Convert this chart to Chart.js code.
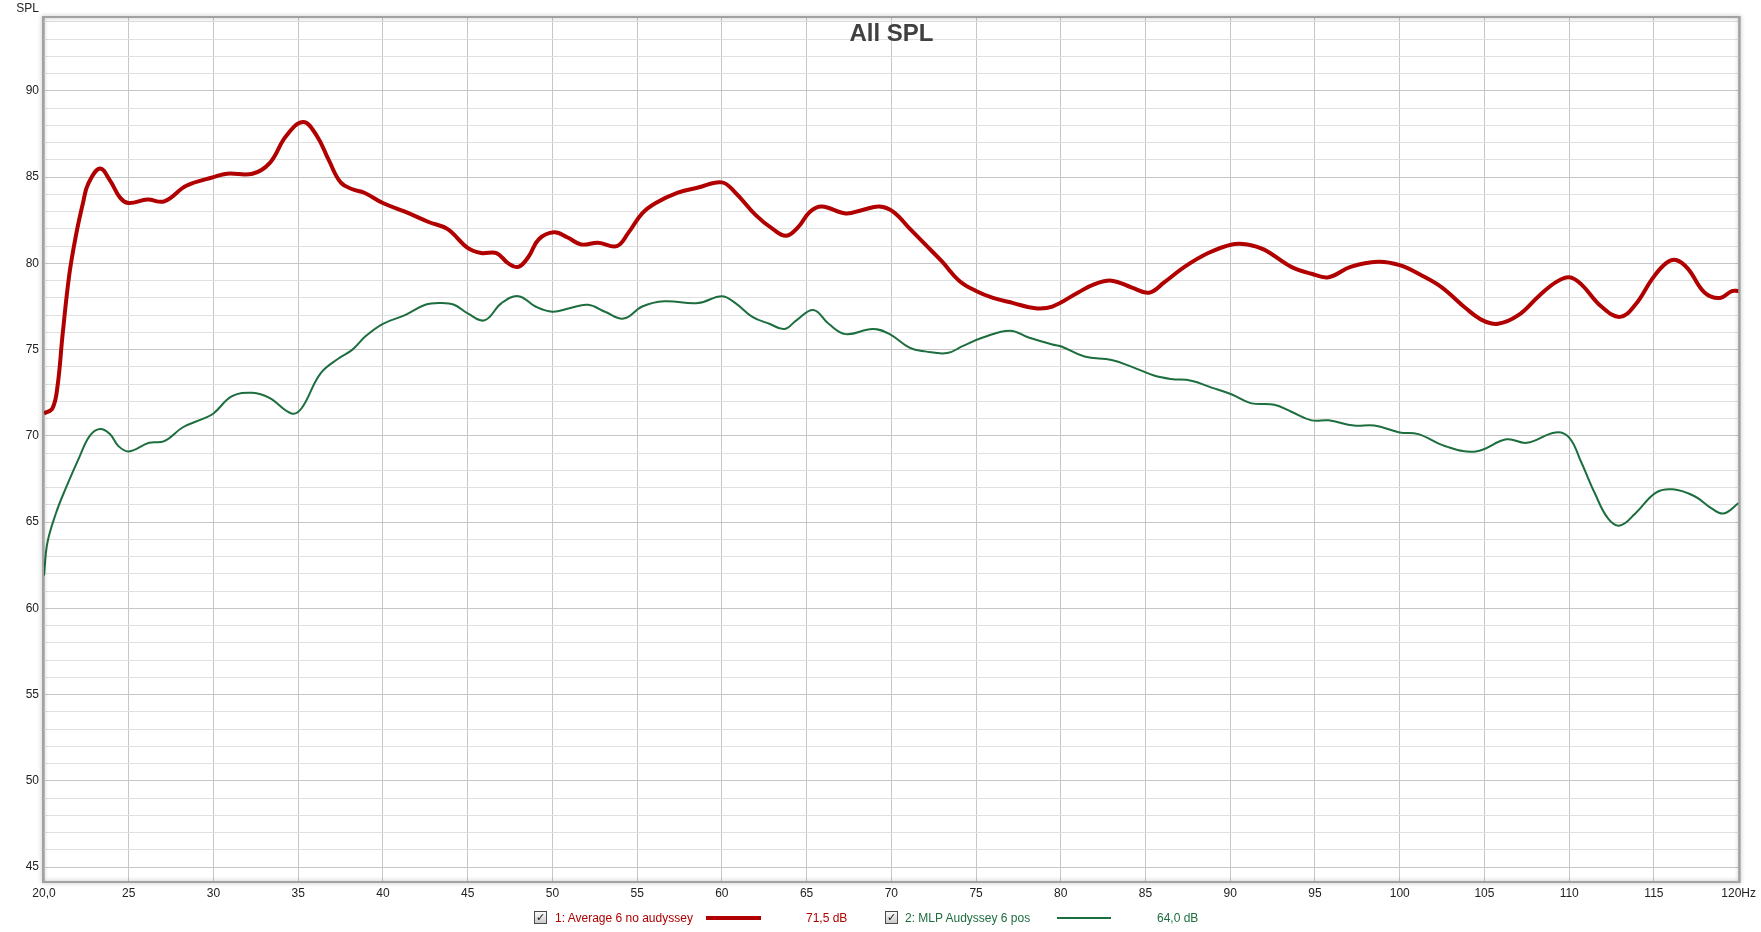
<!DOCTYPE html>
<html>
<head>
<meta charset="utf-8">
<title>All SPL</title>
<script src="https://cdn.jsdelivr.net/npm/chart.js@4"></script>
<style>
  body { margin: 0; background: #fff; font-family: "Liberation Sans", Arial, sans-serif; }
  #wrap { position: relative; width: 1761px; height: 932px; }
  #wrap div, #wrap span { position: absolute; white-space: nowrap; }
  .lbl { font-size: 12px; line-height: 14px; }
  .cb { width: 11px; height: 11px; border: 1px solid #4a4a4a; background: linear-gradient(#fafafa, #c9c9c9);
        font: 11px/11px "DejaVu Sans", sans-serif; color: #111; text-align: center; }
</style>
</head>
<body>
<div id="wrap">
  <canvas id="spl" width="1761" height="932"></canvas>
  <div class="lbl" style="left:0;top:1px;width:39px;text-align:right;color:#222">SPL</div>
  <div style="left:44px;top:19px;width:1695px;text-align:center;font:bold 24px/28px 'Liberation Sans', Arial, sans-serif;color:#404040">All SPL</div>

  <span class="cb" style="left:534px;top:911px">✓</span>
  <div class="lbl" style="left:555px;top:911px;color:#b00000">1: Average 6 no audyssey</div>
  <div style="left:706px;top:916px;width:55px;height:4px;background:#b00000"></div>
  <div class="lbl" style="left:806px;top:911px;color:#b00000">71,5 dB</div>

  <span class="cb" style="left:885px;top:911px">✓</span>
  <div class="lbl" style="left:905px;top:911px;color:#1d6e3e">2: MLP Audyssey 6 pos</div>
  <div style="left:1057px;top:917px;width:54px;height:2px;background:#1d6e3e"></div>
  <div class="lbl" style="left:1157px;top:911px;color:#1d6e3e">64,0 dB</div>
</div>
<script>
// frequency axis (Hz) and SPL readings (dB)
const xTicks = [20, 25, 30, 35, 40, 45, 50, 55, 60, 65, 70, 75, 80, 85, 90, 95, 100, 105, 110, 115, 120];
const yTicks = [45, 50, 55, 60, 65, 70, 75, 80, 85, 90];

const avgHz = [20, 20.5, 20.8, 21.1, 21.5, 21.9, 22.3, 22.6, 23.3, 23.9, 24.5, 25, 26.1, 27.1, 28.4, 30, 30.8, 32.3, 33.3, 34.3,
  35.3, 36.1, 36.8, 37.5, 38.2, 38.9, 40, 41.3, 42.7, 43.8, 45, 45.8, 46.7, 47.4, 48, 48.6, 49.2, 50.1, 50.9, 51.7,
  52.7, 53.8, 54.5, 55.3, 56.1, 57.4, 58.6, 60, 60.8, 62, 63, 63.8, 64.5, 65.2, 65.9, 67.3, 68.3, 69.3, 70.1, 71.1,
  72, 73, 74, 75, 76, 77.2, 78.5, 79.5, 81, 82, 83, 84.2, 85.2, 86.1, 87.3, 88.7, 90.1, 91, 92, 93.6,
  94.8, 95.8, 97.1, 98.7, 100, 101.3, 102.5, 103.9, 104.9, 105.8, 107, 108.2, 109.2, 110, 110.7, 111.9, 113, 113.9, 114.9, 115.7,
  116.3, 117, 118, 118.9, 119.6, 120];
const avgDb = [71.3, 71.6, 72.9, 75.9, 79.4, 81.7, 83.5, 84.6, 85.5, 84.8, 83.8, 83.5, 83.7, 83.6, 84.5, 85.0, 85.2, 85.2, 85.8, 87.4,
  88.2, 87.4, 86.0, 84.7, 84.3, 84.1, 83.5, 83.0, 82.4, 82.0, 80.9, 80.6, 80.6, 80.0, 79.8, 80.4, 81.4, 81.8, 81.5, 81.1,
  81.2, 81.0, 81.8, 82.9, 83.5, 84.1, 84.4, 84.7, 84.1, 82.8, 82.0, 81.6, 82.1, 83.0, 83.3, 82.9, 83.1, 83.3, 83.0, 82.0,
  81.1, 80.1, 79.0, 78.4, 78.0, 77.7, 77.4, 77.5, 78.3, 78.8, 79.0, 78.6, 78.3, 78.9, 79.8, 80.6, 81.1, 81.1, 80.8, 79.8,
  79.4, 79.2, 79.8, 80.1, 79.9, 79.3, 78.6, 77.4, 76.7, 76.5, 77.0, 78.1, 78.9, 79.2, 78.8, 77.5, 76.9, 77.6, 79.1, 80.0,
  80.2, 79.7, 78.3, 78.0, 78.4, 78.4];

const mlpHz = [20, 20.2, 20.7, 21.3, 22.1, 22.7, 23.3, 23.9, 24.4, 25, 26.2, 27.1, 28.2, 29.4, 30, 31.1, 32.3, 33.3, 34.6, 35.2,
  36.3, 37.4, 38.2, 39, 40, 41.3, 42.5, 43.4, 44.2, 45, 46, 47, 48, 49, 50, 51, 52.1, 53.1, 54.2, 55.3,
  56.6, 58.6, 60, 60.8, 61.8, 62.8, 63.7, 64.4, 65.4, 66.3, 67.3, 68.9, 69.9, 71.1, 72, 73.3, 74.2, 75.4, 77, 78.1,
  79.5, 80, 81.4, 83, 84.2, 85.5, 86.5, 87.7, 88.9, 90.1, 91.2, 92.6, 93.6, 94.8, 95.8, 97.3, 98.5, 100, 101.1, 102.7,
  104.5, 106.3, 107.5, 109.2, 110, 110.7, 111.5, 112.3, 113, 113.9, 115.1, 116.1, 117.4, 118.4, 119.1, 120];
const mlpDb = [61.9, 63.8, 65.5, 67.0, 68.8, 70.0, 70.4, 70.1, 69.4, 69.1, 69.6, 69.7, 70.5, 71.0, 71.3, 72.3, 72.5, 72.2, 71.3, 71.6,
  73.6, 74.5, 75.0, 75.8, 76.5, 77.0, 77.6, 77.7, 77.6, 77.1, 76.7, 77.7, 78.1, 77.5, 77.2, 77.4, 77.6, 77.2, 76.8, 77.5,
  77.8, 77.7, 78.1, 77.7, 76.9, 76.5, 76.2, 76.7, 77.3, 76.5, 75.9, 76.2, 75.9, 75.1, 74.9, 74.8, 75.2, 75.7, 76.1, 75.7,
  75.3, 75.2, 74.6, 74.4, 74.0, 73.5, 73.3, 73.2, 72.8, 72.4, 71.9, 71.8, 71.4, 70.9, 70.9, 70.6, 70.6, 70.2, 70.1, 69.4,
  69.1, 69.8, 69.6, 70.2, 69.9, 68.5, 66.7, 65.2, 64.8, 65.5, 66.7, 66.9, 66.5, 65.8, 65.5, 66.1];

const toPoints = (xs, ys) => xs.map((x, i) => ({ x: x, y: ys[i] }));

const tickFont = { family: 'Liberation Sans', size: 12 };

// white page + bevelled frame round the plot area
const framePlugin = {
    id: 'frame',
    beforeDraw(chart) {
        const c = chart.ctx;
        c.save();
        c.fillStyle = '#fff';
        c.fillRect(0, 0, chart.width, chart.height);
        c.restore();
    },
    afterDraw(chart) {
        const a = chart.chartArea;
        const c = chart.ctx;
        c.save();
        c.shadowColor = 'rgba(0,0,0,0.3)';
        c.shadowBlur = 4;
        c.strokeStyle = '#a2a2a2';
        c.lineWidth = 2;
        c.strokeRect(a.left - 1, a.top - 1, a.right - a.left + 2, a.bottom - a.top + 2);
        c.restore();
    }
};

new Chart(document.getElementById('spl'), {
    type: 'line',
    data: {
        datasets: [
            {
                label: '1: Average 6 no audyssey',
                data: toPoints(avgHz, avgDb),
                borderColor: '#b00000',
                borderWidth: 4,
                pointRadius: 0,
                tension: 0.4,
                fill: false,
            },
            {
                label: '2: MLP Audyssey 6 pos',
                data: toPoints(mlpHz, mlpDb),
                borderColor: '#1d6e3e',
                borderWidth: 2,
                pointRadius: 0,
                tension: 0.4,
                fill: false,
            }
        ]
    },
    options: {
        responsive: false,
        animation: false,
        events: [],
        layout: { padding: { top: 18, right: 22, left: 0, bottom: 0 } },
        plugins: {
            legend: { display: false },
            tooltip: { enabled: false },
            title: { display: false }
        },
        scales: {
            x: {
                type: 'linear',
                min: xTicks[0],
                max: xTicks[xTicks.length - 1],
                afterFit: s => { s.height = 51; },
                afterBuildTicks: s => { s.ticks = xTicks.map(v => ({ value: v })); },
                border: { display: false },
                grid: { color: '#c6c6c6', lineWidth: 1, drawTicks: false },
                ticks: {
                    autoSkip: false,
                    maxRotation: 0,
                    padding: 5,
                    color: '#222',
                    font: tickFont,
                    callback: v => v === 20 ? '20,0' : (v === 120 ? '120Hz' : String(v))
                }
            },
            y: {
                min: 44.19,
                max: 94.23,
                afterFit: s => { s.width = 44; },
                border: { display: false },
                grid: {
                    drawTicks: false,
                    lineWidth: 1,
                    color: ctx => (yTicks.includes(ctx.tick.value) ? '#c6c6c6' : '#e0e0e0')
                },
                ticks: {
                    stepSize: 1,
                    includeBounds: false,
                    autoSkip: false,
                    padding: 5,
                    color: '#222',
                    font: tickFont,
                    callback: v => (yTicks.includes(v) ? String(v) : '')
                }
            }
        }
    },
    plugins: [framePlugin]
});
</script>
</body>
</html>
